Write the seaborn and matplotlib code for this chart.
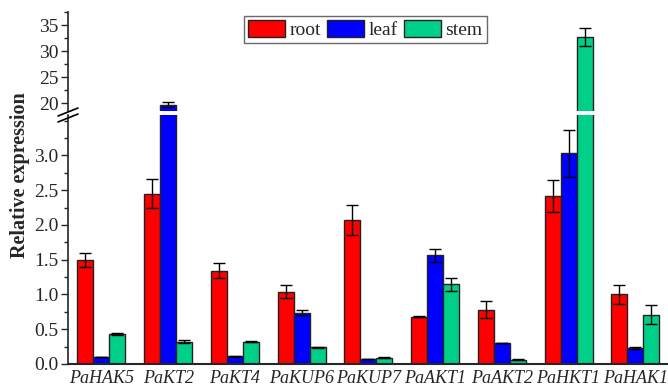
import numpy as np
import pandas as pd
import matplotlib
matplotlib.use("Agg")
import matplotlib.pyplot as plt
from matplotlib.ticker import MultipleLocator
import seaborn as sns

genes = ['PaHAK5', 'PaKT2', 'PaKT4', 'PaKUP6', 'PaKUP7', 'PaAKT1', 'PaAKT2', 'PaHKT1', 'PaHAK1']
tissues = ['root', 'leaf', 'stem']
root = [1.50, 2.45, 1.34, 1.04, 2.07, 0.68, 0.78, 2.42, 1.00]
root_err = [0.10, 0.21, 0.11, 0.09, 0.22, 0.01, 0.12, 0.23, 0.14]
leaf = [0.10, 19.7, 0.11, 0.74, 0.07, 1.56, 0.30, 3.03, 0.23]
leaf_err = [0.005, 0.5, 0.01, 0.03, 0.005, 0.09, 0.005, 0.34, 0.01]
stem = [0.43, 0.32, 0.32, 0.24, 0.09, 1.145, 0.06, 32.7, 0.71]
stem_err = [0.01, 0.02, 0.005, 0.01, 0.005, 0.09, 0.005, 1.75, 0.14]
colors = ['#FF0000', '#0000FF', '#00CF88']

df = pd.DataFrame({
    'gene': genes * 3,
    'tissue': [t for t in tissues for _ in genes],
    'value': root + leaf + stem,
    'err': root_err + leaf_err + stem_err,
})

sns.set_theme(style="ticks")
plt.rcParams['font.family'] = ['Liberation Serif', 'DejaVu Serif']

fig = plt.figure(figsize=(6.68, 3.9), dpi=100)
left, right = 68 / 668, 672 / 668
ax_top = fig.add_axes([left, 1 - 111 / 390, right - left, (111 - 12) / 390])
ax_bot = fig.add_axes([left, 1 - 364 / 390, right - left, (364 - 115) / 390])


def draw(ax):
    sns.barplot(data=df, x='gene', y='value', hue='tissue', hue_order=tissues,
                order=genes, palette=colors, width=0.72, errorbar=None,
                edgecolor='#222222', linewidth=1.0, saturation=1, ax=ax)
    bars = [p for p in ax.patches if p.get_height() > 0]
    for p, e in zip(bars, df['err']):
        ax.errorbar(p.get_x() + p.get_width() / 2, p.get_height(), yerr=e,
                    fmt='none', ecolor='black', elinewidth=1, capsize=4, capthick=1)


draw(ax_top)
draw(ax_bot)

ax_top.set_ylim(18.5, 37.5)
ax_bot.set_ylim(0, 3.58)
for ax in (ax_top, ax_bot):
    ax.set_xlim(-0.5, 8.55)
    ax.set_xlabel('')
    ax.set_ylabel('')
    ax.spines['top'].set_visible(False)
    ax.spines['right'].set_visible(False)
    ax.tick_params(axis='y', which='major', length=5, width=1, labelsize=14, direction='out', pad=2)
    ax.tick_params(axis='y', which='minor', length=3, width=1, direction='out')
    ax.spines['left'].set_linewidth(1.2)
    ax.spines['bottom'].set_linewidth(1.5)

ax_top.yaxis.set_major_locator(MultipleLocator(5))
ax_top.yaxis.set_minor_locator(MultipleLocator(2.5))
ax_top.set_yticks([20, 25, 30, 35])
ax_top.spines['bottom'].set_visible(False)
ax_top.set_xticks([])
ax_top.get_legend().remove()

ax_bot.yaxis.set_major_locator(MultipleLocator(0.5))
ax_bot.yaxis.set_minor_locator(MultipleLocator(0.25))
ax_bot.set_yticks([0.0, 0.5, 1.0, 1.5, 2.0, 2.5, 3.0])
ax_bot.set_yticklabels(['0.0', '0.5', '1.0', '1.5', '2.0', '2.5', '3.0'])
ax_bot.tick_params(axis='x', length=0, labelsize=13, pad=4)
for lab in ax_bot.get_xticklabels():
    lab.set_fontstyle('italic')
ax_bot.get_legend().remove()

# break marks on the y axis
for dy in (-3, 3):
    y = 1 - 115 / 390 + dy / 390
    fig.add_artist(plt.Line2D([left - 10 / 668, left + 10 / 668], [y - 4 / 390, y + 4 / 390],
                              color='black', lw=1.2, transform=fig.transFigure))

handles = [plt.Rectangle((0, 0), 1, 1, facecolor=c, edgecolor='#222222') for c in colors]
leg = fig.legend(handles, tissues, loc='upper left', bbox_to_anchor=(244 / 668, 1 - 16 / 390),
                 ncol=3, fontsize=14, frameon=True, fancybox=False, edgecolor='#444444',
                 handlelength=1.9, handleheight=1.0, columnspacing=0.3, handletextpad=0.25,
                 borderpad=0.2, borderaxespad=0)
leg.get_frame().set_linewidth(1.0)

fig.text(20 / 668, 1 - 175 / 390, 'Relative expression', rotation=90, ha='center', va='center',
         fontsize=14.5, fontweight='bold')

fig.savefig('out.png', dpi=100)
